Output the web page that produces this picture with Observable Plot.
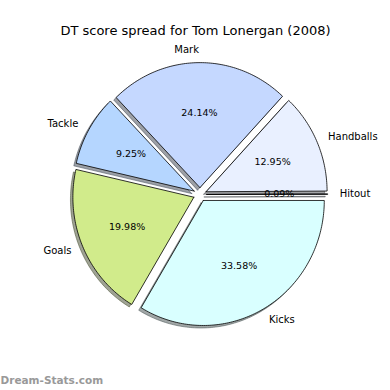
<!DOCTYPE html>
<html><head><meta charset="utf-8">
<script src="https://cdn.jsdelivr.net/npm/d3@7"></script>
<script src="https://cdn.jsdelivr.net/npm/@observablehq/plot@0.6"></script>
<style>body{margin:0;background:#fff;} #chart svg{display:block;}</style>
</head><body><div id="chart"></div>
<script>
const chartTitle = "DT score spread for Tom Lonergan (2008)";
const watermark = "Dream-Stats.com";
const categories = ["Hitout", "Handballs", "Mark", "Tackle", "Goals", "Kicks"];
const shares = [0.09, 12.95, 24.14, 9.25, 19.98, 33.58];
const colors = ["#e4ecff", "#e9f0ff", "#c5d8ff", "#b5d6ff", "#d1eb8b", "#d9ffff"];

const explode = 0.055;
const labelR = 1.1, pctR = 0.6;
const shadowOff = -0.02;

const total = d3.sum(shares);
const ends = d3.cumsum(shares).map(v => v / total * 2 * Math.PI);
const slices = categories.map((name, i) => {
  const a0 = i === 0 ? 0 : ends[i - 1];
  const a1 = ends[i];
  const mid = (a0 + a1) / 2;
  const ox = explode * Math.cos(mid), oy = explode * Math.sin(mid);
  const n = Math.max(2, Math.ceil((a1 - a0) / (Math.PI / 180)));
  const pts = [{x: ox, y: oy}];
  for (let k = 0; k <= n; k++) {
    const t = a0 + (a1 - a0) * k / n;
    pts.push({x: ox + Math.cos(t), y: oy + Math.sin(t)});
  }
  pts.push({x: ox, y: oy});
  const lx = ox + labelR * Math.cos(mid), ly = oy + labelR * Math.sin(mid);
  return {
    name, share: shares[i], color: colors[i], pts,
    shadow: pts.map(p => ({x: p.x + shadowOff, y: p.y + shadowOff})),
    lx, ly, anchor: lx > 0 ? "start" : "end",
    px: ox + pctR * Math.cos(mid), py: oy + pctR * Math.sin(mid),
    pct: shares[i].toFixed(2) + "%"
  };
});

const W = 390, H = 390, cx = 199.5, cy = 194, sx = 121, sy = 125;
const font = "DejaVu Sans, sans-serif";

const marks = [];
for (const s of slices) {
  const shade = d3.rgb(s.color);
  const sc = d3.rgb(shade.r * 0.3, shade.g * 0.3, shade.b * 0.3).formatHex();
  marks.push(Plot.line(s.shadow, {x: "x", y: "y", fill: sc, fillOpacity: 0.5, stroke: "none"}));
  marks.push(Plot.line(s.shadow, {x: "x", y: "y", stroke: sc, strokeOpacity: 0.5, strokeWidth: 1}));
}
for (const s of slices) {
  marks.push(Plot.line(s.pts, {x: "x", y: "y", fill: s.color, stroke: "black", strokeWidth: 0.8, strokeLinejoin: "miter"}));
}
marks.push(Plot.text(slices.filter(d => d.anchor === "end"), {x: "lx", y: "ly", text: "name", textAnchor: "end", fontSize: 10, fill: "black"}));
marks.push(Plot.text(slices.filter(d => d.anchor === "start"), {x: "lx", y: "ly", text: "name", textAnchor: "start", fontSize: 10, fill: "black"}));
marks.push(Plot.text(slices, {x: "px", y: "py", text: "pct", fontSize: 9.5, fill: "black"}));
marks.push(Plot.text([chartTitle], {frameAnchor: "top", dy: 30, lineAnchor: "middle", fontSize: 13, fill: "black"}));
marks.push(Plot.text([watermark], {frameAnchor: "bottom-left", dy: -10, dx: 0, textAnchor: "start", lineAnchor: "middle", fontSize: 10.5, fontWeight: "bold", fill: "#999999"}));

const chart = Plot.plot({
  width: W, height: H,
  margin: 0,
  style: {fontFamily: font, background: "white", overflow: "visible"},
  x: {domain: [-cx / sx, (W - cx) / sx], axis: null},
  y: {domain: [-(H - cy) / sy, cy / sy], axis: null},
  marks
});
document.getElementById("chart").append(chart);
</script>
</body></html>
